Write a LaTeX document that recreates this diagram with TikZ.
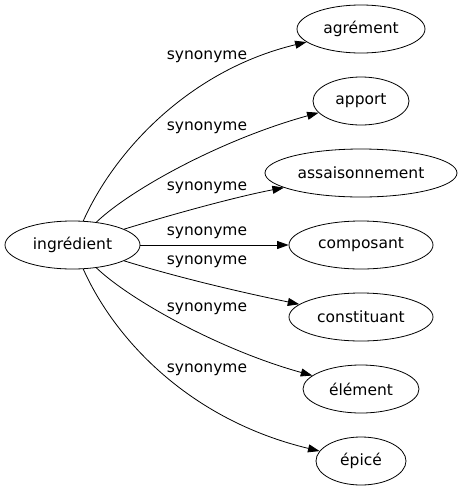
\documentclass[tikz,border=0pt]{standalone}
\usepackage{fontspec}
\setmainfont{DejaVu Sans}
\usetikzlibrary{shapes.geometric,arrows.meta}
\begin{document}
\begin{tikzpicture}[x=1pt,y=-1pt,
  word/.style={ellipse,draw,line width=0.8pt,inner sep=0pt,minimum height=48pt,font=\fontsize{15.5}{18}\selectfont},
  lab/.style={font=\fontsize{15.5}{18}\selectfont,inner sep=0pt},
  link/.style={line width=0.8pt,-{Triangle[length=11.5pt,width=8pt]}}]
\useasboundingbox (0,0) rectangle (462,491);
\node[word,minimum width=135pt] (src) at (72.5,245) {ingrédient};
\node[word,minimum width=128pt] (t1) at (361,29) {agrément};
\node[word,minimum width=96pt] (t2) at (361,101) {apport};
\node[word,minimum width=192pt] (t3) at (361,173) {assaisonnement};
\node[word,minimum width=144pt] (t4) at (361,245) {composant};
\node[word,minimum width=144pt] (t5) at (361,317) {constituant};
\node[word,minimum width=116pt] (t6) at (361,389) {élément};
\node[word,minimum width=90pt] (t7) at (361,461) {épicé};
\draw[link] (src) .. controls (115,150) and (190,70) .. (t1);
\draw[link] (src) .. controls (130,190) and (220,140) .. (t2);
\draw[link] (src) .. controls (180,212) and (240,196) .. (t3);
\draw[link] (src) -- (t4);
\draw[link] (src) .. controls (180,278) and (240,292) .. (t5);
\draw[link] (src) .. controls (130,300) and (220,350) .. (t6);
\draw[link] (src) .. controls (115,340) and (190,420) .. (t7);
\node[lab] (l1) at (207,57) {synonyme};
\node[lab] (l2) at (207,128) {synonyme};
\node[lab] (l3) at (207,188) {synonyme};
\node[lab] (l4) at (207,233) {synonyme};
\node[lab] (l5) at (207,262) {synonyme};
\node[lab] (l6) at (207,309) {synonyme};
\node[lab] (l7) at (207,370) {synonyme};
\end{tikzpicture}
\end{document}
